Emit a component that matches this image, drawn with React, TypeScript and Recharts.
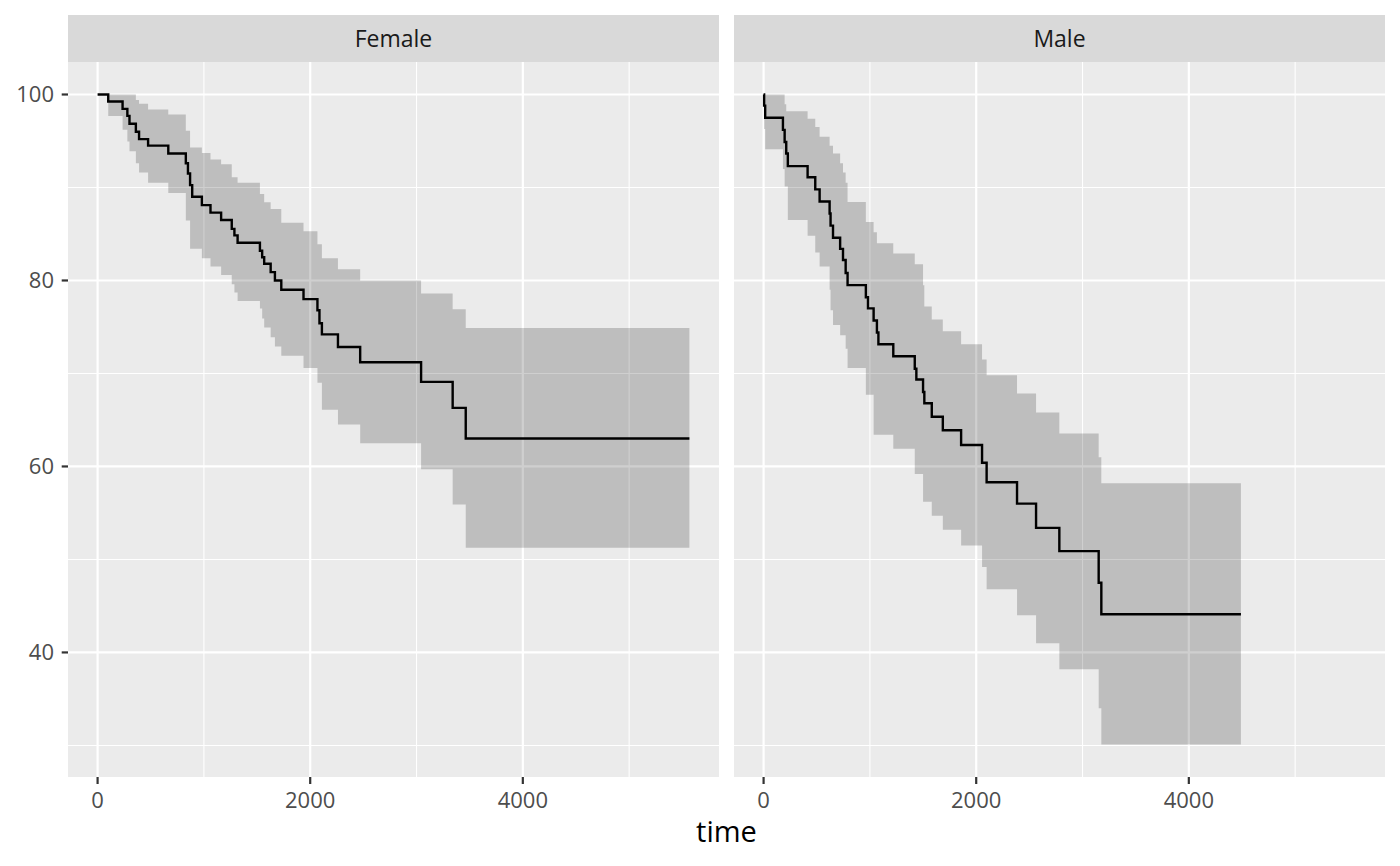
import React from 'react';
import { ComposedChart, Area, Line, XAxis, YAxis, CartesianGrid } from 'recharts';

// ---- Female ----
const femaleTime = [0, 100, 235, 280, 300, 360, 390, 475, 665, 830, 850, 870, 890, 981, 1062, 1162, 1262, 1287, 1317, 1527, 1548, 1567, 1628, 1668, 1728, 1937, 2068, 2087, 2110, 2261, 2470, 3043, 3340, 3463, 5567];
const femaleSurv = [100, 99.25, 98.45, 97.7, 96.85, 96.0, 95.2, 94.5, 93.65, 92.6, 91.5, 90.25, 89.0, 88.1, 87.3, 86.5, 85.55, 84.85, 84.05, 83.2, 82.5, 81.8, 80.9, 80.0, 79.0, 78.0, 76.8, 75.4, 74.2, 72.85, 71.2, 69.1, 66.3, 63.0, 63.0];
const femaleLower = [100, 97.7, 96.2, 94.95, 93.9, 92.6, 91.6, 90.5, 89.4, 86.45, 86.45, 83.4, 83.4, 82.4, 81.5, 80.6, 79.6, 78.7, 77.8, 77.0, 75.9, 74.95, 73.9, 72.9, 71.9, 70.6, 69.0, 69.0, 66.1, 64.5, 62.5, 59.7, 55.9, 51.25, 51.25];
const femaleUpper = [100, 100, 100, 100, 100, 99.4, 99.0, 98.4, 97.85, 96.1, 96.1, 94.3, 94.3, 93.7, 93.0, 92.5, 91.1, 91.1, 90.5, 89.3, 89.3, 88.4, 87.7, 87.7, 86.2, 85.3, 83.9, 83.9, 82.4, 81.2, 80.0, 78.6, 76.9, 74.9, 74.9];

// ---- Male ----
const maleTime = [0, 5, 15, 182, 198, 213, 228, 414, 486, 527, 621, 630, 653, 720, 747, 772, 790, 962, 982, 1035, 1066, 1080, 1220, 1422, 1437, 1500, 1512, 1582, 1686, 1858, 2055, 2098, 2384, 2563, 2782, 3152, 3177, 4490];
const maleSurv = [100, 98.8, 97.5, 96.2, 94.9, 93.65, 92.3, 91.1, 89.8, 88.5, 87.2, 85.9, 84.6, 83.4, 82.2, 80.8, 79.5, 78.2, 77.0, 75.7, 74.4, 73.15, 71.85, 70.5, 69.35, 68.0, 66.8, 65.35, 63.9, 62.3, 60.4, 58.3, 56.0, 53.4, 50.9, 47.5, 44.1, 44.1];
const maleLower = [100, 96.3, 94.1, 92.0, 90.1, 90.1, 86.5, 84.8, 83.0, 81.5, 79.0, 76.8, 75.2, 74.1, 74.1, 72.65, 70.6, 67.7, 67.7, 63.4, 63.4, 63.4, 61.9, 59.2, 59.2, 56.2, 56.2, 54.7, 53.2, 51.5, 49.2, 46.8, 44.0, 41.0, 38.2, 34.0, 30.1, 30.1];
const maleUpper = [100, 100, 100, 100, 98.95, 98.2, 98.2, 97.4, 96.5, 95.45, 94.5, 94.5, 93.65, 92.6, 91.6, 90.5, 88.45, 86.3, 86.3, 85.2, 84.0, 84.0, 82.9, 81.75, 81.75, 79.5, 77.2, 75.8, 74.55, 73.15, 71.5, 69.8, 67.85, 65.8, 63.55, 61.0, 58.2, 58.2];

// ---- Ticks ----
const xMajor = [0, 2000, 4000];
const xMinor = [1000, 3000, 5000];
const yMajor = [40, 60, 80, 100];
const yMinor = [30, 50, 70, 90];
const panelLabels = ['Female', 'Male'];
const xTitle = 'time';

const build = (t: number[], s: number[], l: number[], u: number[]) =>
  t.map((time, i) => ({ time, surv: s[i], lower: l[i], upper: u[i] }));

const femaleData = build(femaleTime, femaleSurv, femaleLower, femaleUpper);
const maleData = build(maleTime, maleSurv, maleLower, maleUpper);

const allTimes = [...femaleTime, ...maleTime];
const xMin = Math.min(...allTimes);
const xMax = Math.max(...allTimes);
const xPad = (xMax - xMin) * 0.05;
const xDomain: [number, number] = [xMin - xPad, xMax + xPad];
const yLo = Math.min(...femaleLower, ...maleLower);
const yHi = Math.max(...femaleUpper, ...maleUpper);
const yPad = (yHi - yLo) * 0.05;
const yDomain: [number, number] = [yLo - yPad, yHi + yPad];

const FONT = '"Open Sans", "Noto Sans", sans-serif';
const PANEL_TOP = 62;
const PANEL_H = 715;
const PANEL_W = 651;
const AXIS_H = 50;
const YAXIS_W = 68;

type Row = { time: number; surv: number; lower: number; upper: number };

function Panel({ data, showY, left }: { data: Row[]; showY: boolean; left: number }) {
  const width = PANEL_W + (showY ? YAXIS_W : 0);
  return (
    <div style={{ position: 'absolute', left, top: PANEL_TOP }}>
      <ComposedChart width={width} height={PANEL_H + AXIS_H} data={data} margin={{ top: 0, right: 0, bottom: 0, left: 0 }}>
        <CartesianGrid
          fill="#EBEBEB"
          fillOpacity={1}
          stroke="#FFFFFF"
          strokeWidth={1.1}
          horizontalValues={yMinor}
          verticalValues={xMinor}
        />
        <CartesianGrid stroke="#FFFFFF" strokeWidth={2.2} horizontalValues={yMajor} verticalValues={xMajor} />
        <XAxis
          dataKey="time"
          type="number"
          domain={xDomain}
          ticks={xMajor}
          interval={0}
          allowDataOverflow
          axisLine={false}
          tickLine={{ stroke: '#333333', strokeWidth: 2.2 }}
          tickSize={7}
          tickMargin={8}
          height={AXIS_H}
          tick={{ fill: '#4D4D4D', fontSize: 22, fontFamily: FONT }}
        />
        <YAxis
          type="number"
          domain={yDomain}
          ticks={yMajor}
          interval={0}
          allowDataOverflow
          hide={!showY}
          width={YAXIS_W}
          axisLine={false}
          tickLine={{ stroke: '#333333', strokeWidth: 2.2 }}
          tickSize={6.3}
          tickMargin={7.7}
          tick={{ fill: '#4D4D4D', fontSize: 22, fontFamily: FONT }}
        />
        <Area
          dataKey={(d: Row) => [d.lower, d.upper]}
          type="stepAfter"
          fill="#000000"
          fillOpacity={0.19}
          stroke="none"
          dot={false}
          activeDot={false}
          isAnimationActive={false}
        />
        <Line
          dataKey="surv"
          type="stepAfter"
          stroke="#000000"
          strokeWidth={2.4}
          dot={false}
          activeDot={false}
          isAnimationActive={false}
        />
      </ComposedChart>
    </div>
  );
}

function Strip({ label, left }: { label: string; left: number }) {
  return (
    <div
      style={{
        position: 'absolute',
        left,
        top: 15,
        width: PANEL_W,
        height: 47,
        lineHeight: '47px',
        background: '#D9D9D9',
        color: '#1A1A1A',
        fontFamily: FONT,
        fontSize: 23,
        textAlign: 'center',
      }}
    >
      {label}
    </div>
  );
}

export default function App() {
  return (
    <div style={{ position: 'absolute', left: 0, top: 0, width: 1400, height: 866, background: '#FFFFFF', overflow: 'hidden' }}>
      <Strip label={panelLabels[0]} left={68} />
      <Strip label={panelLabels[1]} left={734} />
      <Panel data={femaleData} showY left={0} />
      <Panel data={maleData} showY={false} left={734} />
      <div
        style={{
          position: 'absolute',
          left: 68,
          top: 810.5,
          width: 1317,
          textAlign: 'center',
          fontFamily: FONT,
          fontSize: 29,
          lineHeight: '40px',
          color: '#000000',
        }}
      >
        {xTitle}
      </div>
    </div>
  );
}
